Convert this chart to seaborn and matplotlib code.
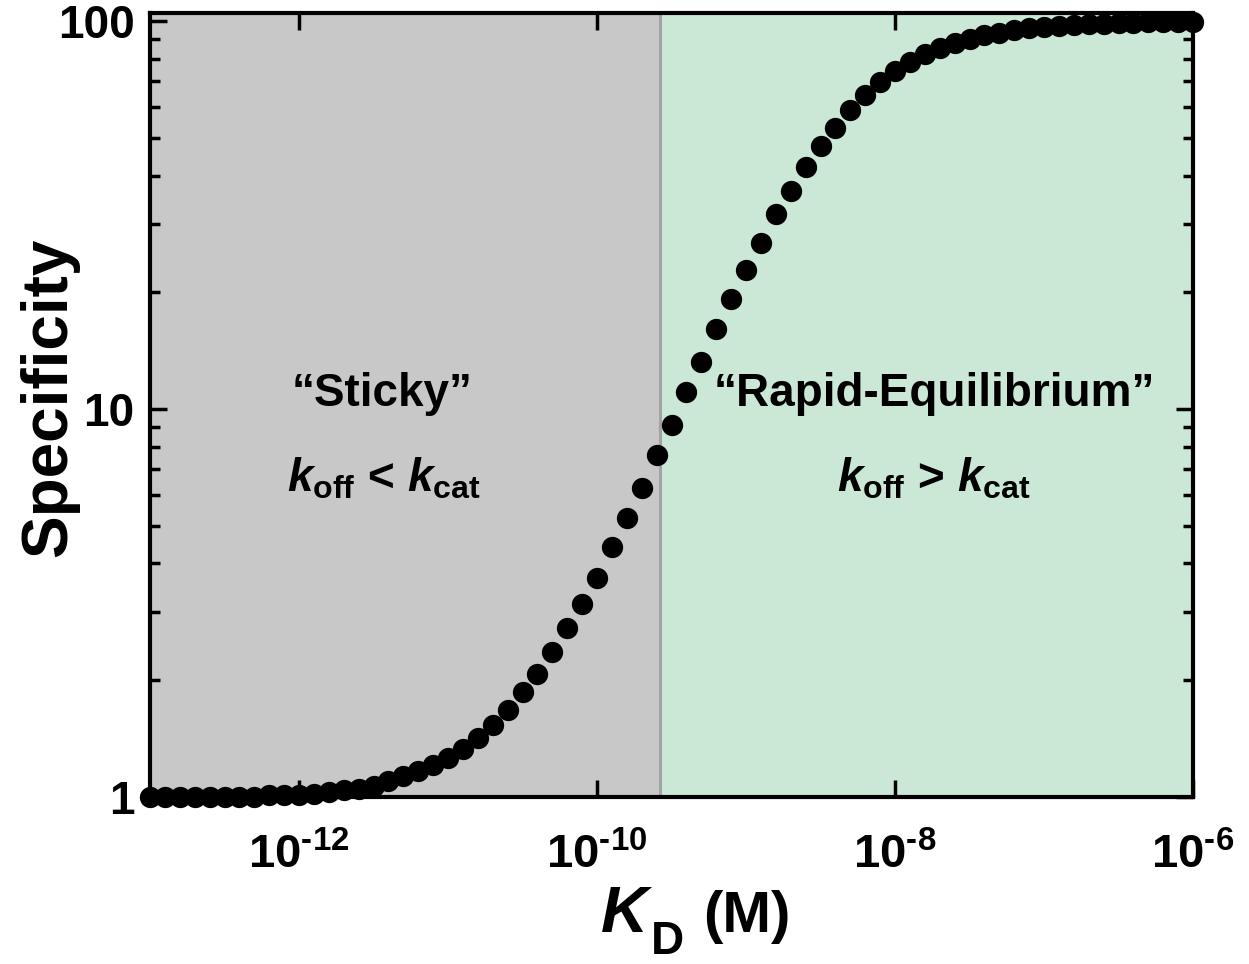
import matplotlib
matplotlib.use("Agg")
import matplotlib.pyplot as plt
import numpy as np
import pandas as pd
import seaborn as sns
from matplotlib.ticker import FixedLocator, FixedFormatter, LogLocator, NullFormatter, NullLocator

# ---------------- data ----------------
kd_exponent = [-13.0, -12.9, -12.8, -12.7, -12.6, -12.5, -12.4, -12.3, -12.2, -12.1,
               -12.0, -11.9, -11.8, -11.7, -11.6, -11.5, -11.4, -11.3, -11.2, -11.1,
               -11.0, -10.9, -10.8, -10.7, -10.6, -10.5, -10.4, -10.3, -10.2, -10.1,
               -10.0, -9.9, -9.8, -9.7, -9.6, -9.5, -9.4, -9.3, -9.2, -9.1,
               -9.0, -8.9, -8.8, -8.7, -8.6, -8.5, -8.4, -8.3, -8.2, -8.1,
               -8.0, -7.9, -7.8, -7.7, -7.6, -7.5, -7.4, -7.3, -7.2, -7.1,
               -7.0, -6.9, -6.8, -6.7, -6.6, -6.5, -6.4, -6.3, -6.2, -6.1, -6.0]
specificity = [1.00, 1.00, 1.00, 1.00, 1.00, 1.00, 1.00, 1.00, 1.01, 1.01,
               1.01, 1.02, 1.03, 1.04, 1.05, 1.07, 1.10, 1.13, 1.17, 1.21,
               1.26, 1.33, 1.42, 1.53, 1.68, 1.86, 2.08, 2.36, 2.72, 3.15,
               3.68, 4.40, 5.23, 6.25, 7.60, 9.09, 11.07, 13.2, 16.1, 19.2,
               22.9, 26.8, 31.9, 36.6, 42.2, 47.8, 53.2, 58.9, 64.5, 69.6,
               74.3, 78.6, 82.3, 85.4, 88.0, 90.2, 92.0, 93.5, 94.8, 95.8,
               96.6, 97.3, 97.8, 98.2, 98.6, 98.9, 99.1, 99.3, 99.5, 99.6, 99.7]
boundary_kd = 2.65e-10
x_limits = [1e-13, 1e-6]
y_limits = [1.0, 105.0]
x_tick_values = [1e-12, 1e-10, 1e-8, 1e-6]
x_tick_labels = ["$\\mathrm{10^{\u2010 12}}$", "$\\mathrm{10^{\u2010 10}}$",
                 "$\\mathrm{10^{\u2010 8}}$", "$\\mathrm{10^{\u2010 6}}$"]
y_tick_values = [1, 10, 100]
y_tick_labels = ["1", "10", "100"]

df = pd.DataFrame({"KD": [10.0 ** e for e in kd_exponent], "Specificity": specificity})

# ---------------- style ----------------
sns.set_style("ticks")
plt.rcParams["font.family"] = ["Liberation Sans", "DejaVu Sans"]
plt.rcParams["font.weight"] = "bold"
plt.rcParams["text.color"] = "black"
plt.rcParams["axes.labelcolor"] = "black"
plt.rcParams["xtick.color"] = "black"
plt.rcParams["ytick.color"] = "black"
plt.rcParams["mathtext.fontset"] = "custom"
plt.rcParams["mathtext.rm"] = "Liberation Sans:bold"
plt.rcParams["mathtext.bf"] = "Liberation Sans:bold"
plt.rcParams["mathtext.it"] = "Liberation Sans:italic"
plt.rcParams["mathtext.sf"] = "Liberation Sans:bold:italic"

W, H = 1249, 964
fig = plt.figure(figsize=(W / 100, H / 100), dpi=100)
ax = fig.add_axes([150 / W, 1 - 797 / H, (1193 - 150) / W, (797 - 13) / H])

ax.set_xscale("log")
ax.set_yscale("log")

gray = "#c8c8c8"
green = "#cbe8d7"
ax.axvspan(x_limits[0], boundary_kd, color=gray, zorder=0, lw=0)
ax.axvspan(boundary_kd, x_limits[1], color=green, zorder=0, lw=0)
ax.axvline(boundary_kd, color="#a3a3a3", lw=2.2, zorder=1)

sns.scatterplot(data=df, x="KD", y="Specificity", ax=ax, s=235, color="black",
                edgecolor="black", linewidth=0, zorder=5, clip_on=False, legend=False)

ax.set_xlim(*x_limits)
ax.set_ylim(*y_limits)

ax.xaxis.set_major_locator(FixedLocator(x_tick_values))
ax.xaxis.set_major_formatter(FixedFormatter(x_tick_labels))
ax.xaxis.set_minor_locator(NullLocator())
ax.yaxis.set_major_locator(FixedLocator(y_tick_values))
ax.yaxis.set_major_formatter(FixedFormatter(y_tick_labels))
ax.yaxis.set_minor_locator(LogLocator(base=10, subs=[2, 3, 4, 5, 6, 7, 8, 9]))
ax.yaxis.set_minor_formatter(NullFormatter())

ax.tick_params(which="both", direction="in", top=True, right=True, width=2.5, color="black")
ax.tick_params(which="major", length=12)
ax.tick_params(which="minor", length=7)
ax.tick_params(axis="x", which="major", pad=26, labelsize=34)
ax.tick_params(axis="y", which="major", pad=11, labelsize=33)
for lab in ax.get_xticklabels() + ax.get_yticklabels():
    lab.set_fontweight("bold")
for s in ax.spines.values():
    s.set_linewidth(3)
    s.set_color("black")
    s.set_zorder(4)

ax.set_xlabel("")
ax.set_ylabel("Specificity", fontsize=46, fontweight="bold")
ax.yaxis.set_label_coords(-0.068, 0.51)

# x-axis label: K (bold italic), lowered D subscript, (M)
fig.text(600 / W, 1 - 932 / H, r"$\mathsf{K}$", fontsize=47, ha="left", va="baseline")
fig.text(650 / W, 1 - 954 / H, r"$\mathrm{D}$", fontsize=33, ha="left", va="baseline")
fig.text(703 / W, 1 - 932 / H, "(M)", fontsize=42, fontweight="bold", ha="left", va="baseline")

# region annotations
ax.text(10 ** (-13 + (382 - 150) / 149), 10 ** ((795 - 393) / 387), "\u201cSticky\u201d",
        fontsize=33, fontweight="bold", ha="center", va="center", zorder=6)
ax.text(10 ** (-13 + (934 - 150) / 149), 10 ** ((795 - 393) / 387),
        "\u201cRapid-Equilibrium\u201d",
        fontsize=33, fontweight="bold", ha="center", va="center", zorder=6)
ax.text(10 ** (-13 + (384 - 150) / 149), 10 ** ((795 - 490) / 387),
        r"$k_\mathrm{off}$ < $k_\mathrm{cat}$",
        fontsize=33, fontweight="bold", ha="center", va="baseline", zorder=6)
ax.text(10 ** (-13 + (934 - 150) / 149), 10 ** ((795 - 490) / 387),
        r"$k_\mathrm{off}$ > $k_\mathrm{cat}$",
        fontsize=33, fontweight="bold", ha="center", va="baseline", zorder=6)

fig.savefig("out.png", dpi=100, facecolor="white")
